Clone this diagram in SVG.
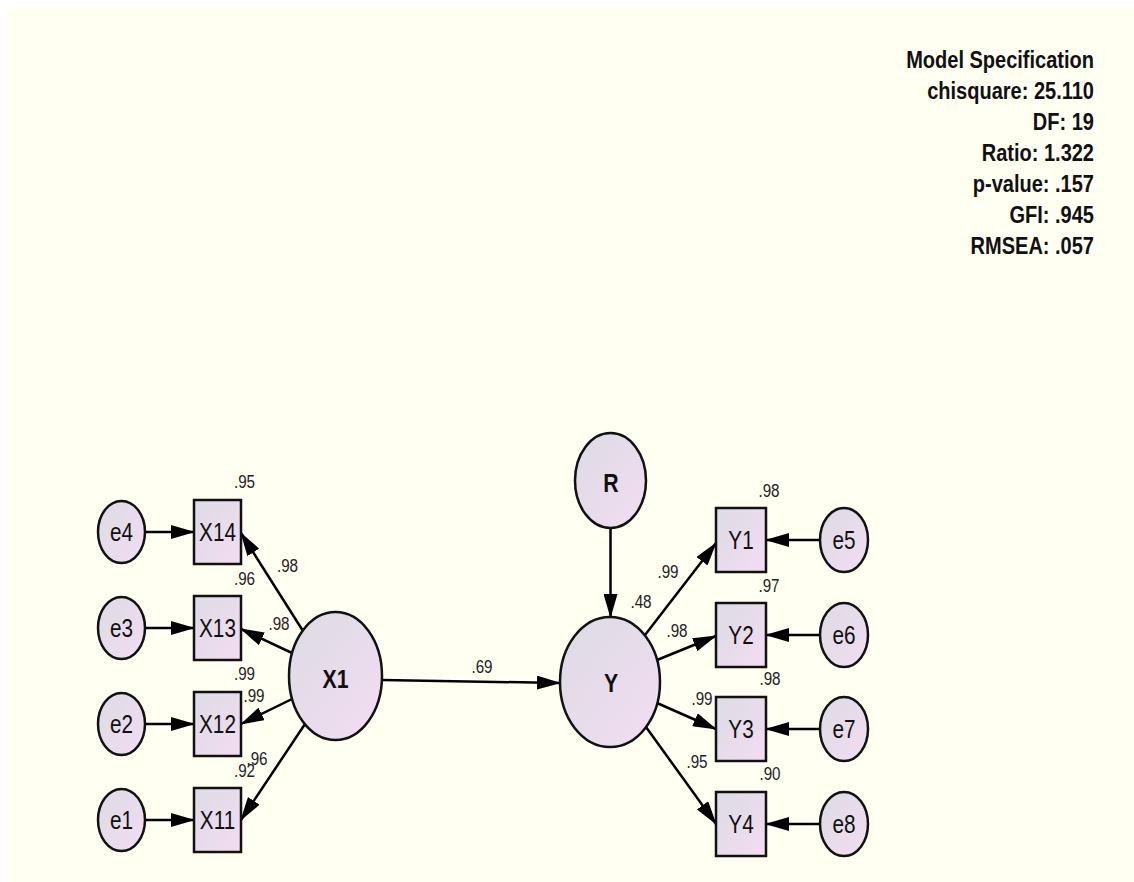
<svg xmlns="http://www.w3.org/2000/svg" width="1134" height="882" viewBox="0 0 1134 882">
  <defs>
    <linearGradient id="fillGrad" x1="0" y1="0" x2="1" y2="1">
      <stop offset="0" stop-color="#dcdce4"/>
      <stop offset="1" stop-color="#f3dcf2"/>
    </linearGradient>
    <marker id="arrow" markerUnits="userSpaceOnUse" markerWidth="24" markerHeight="14" refX="23" refY="7" orient="auto">
      <path d="M0,0 L24,7 L0,14 z" fill="#000"/>
    </marker>
    <style>
      .node { fill: url(#fillGrad); stroke: #111; stroke-width: 2.5; }
      .edge { stroke: #000; stroke-width: 2.5; fill: none; marker-end: url(#arrow); }
      text { transform-box: fill-box; transform-origin: center; }
      .lbl { font-family: "Liberation Sans", Arial, sans-serif; font-size: 25px; fill: #111; text-anchor: middle; transform: scaleX(0.83); }
      .lat { font-family: "Liberation Sans", Arial, sans-serif; font-size: 25px; font-weight: bold; fill: #111; text-anchor: middle; transform: scaleX(0.85); }
      .coef { font-family: "Liberation Sans", Arial, sans-serif; font-size: 19px; fill: #222; text-anchor: middle; transform: scaleX(0.8); }
      .spec { font-family: "Liberation Sans", Arial, sans-serif; font-size: 23px; font-weight: bold; fill: #111; text-anchor: end; }
    </style>
  </defs>

  <!-- canvas -->
  <rect x="0" y="0" width="1134" height="882" fill="#ffffff"/>
  <rect x="7" y="7" width="1127" height="875" fill="#fffff2"/>

  <!-- fit statistics -->
  <g id="model-spec" transform="translate(1094,0) scale(0.87,1)">
    <text class="spec" x="0" y="68">Model Specification</text>
    <text class="spec" x="0" y="99">chisquare: 25.110</text>
    <text class="spec" x="0" y="130">DF: 19</text>
    <text class="spec" x="0" y="161">Ratio: 1.322</text>
    <text class="spec" x="0" y="192">p-value: .157</text>
    <text class="spec" x="0" y="223">GFI: .945</text>
    <text class="spec" x="0" y="254">RMSEA: .057</text>
  </g>

  <!-- paths -->
  <g id="connectors">
    <line class="edge" x1="145" y1="532" x2="194" y2="532"/>
    <line class="edge" x1="145" y1="628" x2="194" y2="628"/>
    <line class="edge" x1="145" y1="724" x2="194" y2="724"/>
    <line class="edge" x1="145" y1="820" x2="194" y2="820"/>

    <line class="edge" x1="303" y1="631" x2="241" y2="533"/>
    <line class="edge" x1="292" y1="653" x2="241" y2="629"/>
    <line class="edge" x1="292" y1="699" x2="241" y2="724"/>
    <line class="edge" x1="305" y1="724" x2="241" y2="820"/>

    <line class="edge" x1="382" y1="680" x2="560" y2="683"/>
    <line class="edge" x1="610.5" y1="528" x2="610.5" y2="617"/>

    <line class="edge" x1="645" y1="635" x2="716" y2="543"/>
    <line class="edge" x1="657" y1="660" x2="716" y2="636"/>
    <line class="edge" x1="657" y1="703" x2="716" y2="729"/>
    <line class="edge" x1="646" y1="727" x2="716" y2="824"/>

    <line class="edge" x1="820" y1="540" x2="766" y2="540"/>
    <line class="edge" x1="820" y1="635" x2="766" y2="635"/>
    <line class="edge" x1="820" y1="729" x2="766" y2="729"/>
    <line class="edge" x1="820" y1="824" x2="766" y2="824"/>
  </g>

  <!-- path coefficients and squared multiple correlations -->
  <g id="estimates">
    <text class="coef" x="244.5" y="488">.95</text>
    <text class="coef" x="287.5" y="572">.98</text>
    <text class="coef" x="244.5" y="585">.96</text>
    <text class="coef" x="279" y="630">.98</text>
    <text class="coef" x="244.5" y="680">.99</text>
    <text class="coef" x="254" y="702">.99</text>
    <text class="coef" x="244.5" y="777">.92</text>
    <text class="coef" x="257" y="765">.96</text>
    <text class="coef" x="482" y="673">.69</text>
    <text class="coef" x="641" y="608">.48</text>
    <text class="coef" x="769" y="497">.98</text>
    <text class="coef" x="668" y="578">.99</text>
    <text class="coef" x="769" y="592">.97</text>
    <text class="coef" x="677" y="637">.98</text>
    <text class="coef" x="770" y="685">.98</text>
    <text class="coef" x="702" y="705">.99</text>
    <text class="coef" x="697" y="768">.95</text>
    <text class="coef" x="770" y="780">.90</text>
  </g>

  <!-- error terms, left -->
  <g id="e4"><ellipse class="node" cx="121.5" cy="532" rx="23.5" ry="31"/><text class="lbl" x="121.5" y="541">e4</text></g>
  <g id="e3"><ellipse class="node" cx="121.5" cy="628" rx="23.5" ry="31"/><text class="lbl" x="121.5" y="637">e3</text></g>
  <g id="e2"><ellipse class="node" cx="121.5" cy="724" rx="23.5" ry="31"/><text class="lbl" x="121.5" y="733">e2</text></g>
  <g id="e1"><ellipse class="node" cx="121.5" cy="820" rx="23.5" ry="31"/><text class="lbl" x="121.5" y="829">e1</text></g>

  <!-- indicators of X1 -->
  <g id="X14"><rect class="node" x="194" y="500" width="47" height="64"/><text class="lbl" x="217.5" y="541">X14</text></g>
  <g id="X13"><rect class="node" x="194" y="596" width="47" height="64"/><text class="lbl" x="217.5" y="637">X13</text></g>
  <g id="X12"><rect class="node" x="194" y="692" width="47" height="64"/><text class="lbl" x="217.5" y="733">X12</text></g>
  <g id="X11"><rect class="node" x="194" y="788" width="47" height="64"/><text class="lbl" x="217.5" y="829">X11</text></g>

  <!-- latent variables -->
  <g id="X1"><ellipse class="node" cx="335.5" cy="676" rx="46.5" ry="64"/><text class="lat" x="335.5" y="688">X1</text></g>
  <g id="R"><ellipse class="node" cx="610.5" cy="480.5" rx="35.5" ry="47.5"/><text class="lat" x="611" y="492">R</text></g>
  <g id="Y"><ellipse class="node" cx="610" cy="682" rx="50" ry="65"/><text class="lat" x="611" y="692">Y</text></g>

  <!-- indicators of Y -->
  <g id="Y1"><rect class="node" x="716" y="508" width="50" height="64"/><text class="lbl" x="741" y="549">Y1</text></g>
  <g id="Y2"><rect class="node" x="716" y="603" width="50" height="64"/><text class="lbl" x="741" y="644">Y2</text></g>
  <g id="Y3"><rect class="node" x="716" y="697" width="50" height="64"/><text class="lbl" x="741" y="738">Y3</text></g>
  <g id="Y4"><rect class="node" x="716" y="792" width="50" height="64"/><text class="lbl" x="741" y="833">Y4</text></g>

  <!-- error terms, right -->
  <g id="e5"><ellipse class="node" cx="844" cy="540" rx="24" ry="32"/><text class="lbl" x="844" y="549">e5</text></g>
  <g id="e6"><ellipse class="node" cx="844" cy="635" rx="24" ry="32"/><text class="lbl" x="844" y="644">e6</text></g>
  <g id="e7"><ellipse class="node" cx="844" cy="729" rx="24" ry="32"/><text class="lbl" x="844" y="738">e7</text></g>
  <g id="e8"><ellipse class="node" cx="844" cy="824" rx="24" ry="32"/><text class="lbl" x="844" y="833">e8</text></g>
</svg>
